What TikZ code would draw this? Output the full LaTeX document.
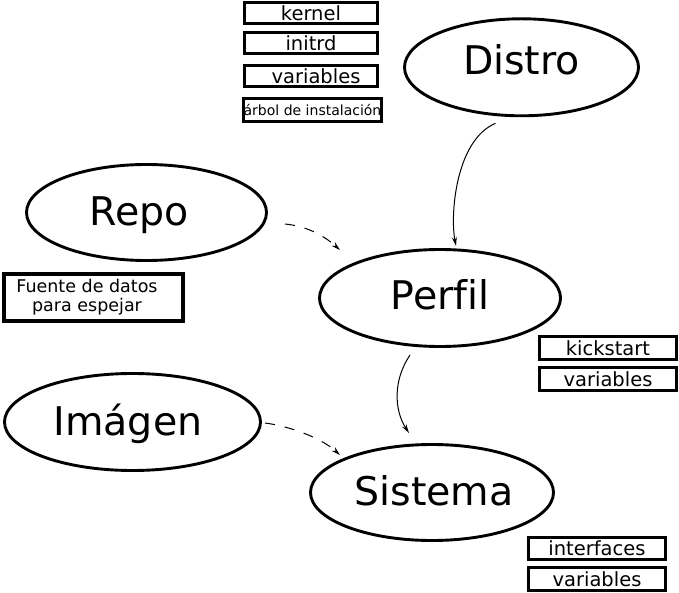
\documentclass[tikz,border=0pt]{standalone}
\usepackage{fontspec}
\setmainfont{DejaVu Sans}[Ligatures={NoCommon}]
\usetikzlibrary{arrows.meta,shapes.geometric}
\begin{document}
\begin{tikzpicture}[x=1pt,y=-1pt,
  oval/.style={ellipse, draw, line width=2.9pt, inner sep=0pt, text height=26.8pt, text depth=0pt,
    font=\fontsize{39.5}{41}\selectfont},
  tag/.style={rectangle, draw, line width=3.5pt, inner sep=0pt, minimum width=133pt, minimum height=21pt,
    font=\fontsize{19.5}{21}\selectfont},
  link/.style={line width=1pt, -{Stealth[length=9pt,width=5pt]}},
  dlink/.style={link, dash pattern=on 10pt off 10pt}]
\useasboundingbox (0,0) rectangle (679,593);

% ellipses
\node[oval, minimum width=234pt, minimum height=97pt, text height=14.2pt] (distro) at (521.5,67.3) {Distro};
\node[oval, minimum width=240pt, minimum height=96pt] (repo) at (146.5,212.5) {\hspace*{-15pt}Repo};
\node[oval, minimum width=241pt, minimum height=97pt, text height=22.8pt] (perfil) at (440,298) {Perfil};
\node[oval, minimum width=256pt, minimum height=97pt] (imagen) at (132.5,422) {\hspace*{-9pt}Imágen};
\node[oval, minimum width=243pt, minimum height=96pt, text height=25.8pt] (sistema) at (432,492.5) {Sistema\hspace*{-4pt}};

% boxes
\node[tag] (kernel) at (311,13) {kernel};
\node[tag] (initrd) at (311,43) {initrd};
\node[tag] (dvars) at (311,76) {variables\hspace*{-10pt}};
\node[tag, minimum width=136pt, minimum height=23pt, font=\fontsize{14}{16}\selectfont] (arbol) at (312.5,110) {árbol de instalación};

\node[rectangle, draw, line width=4.2pt, minimum width=179pt, minimum height=47pt] (fuente) at (93.5,297.5) {};
\node[align=center, inner sep=0pt, font=\fontsize{17.5}{19.5}\selectfont] (fuentetext) at (87,297.4) {Fuente de datos\\para espejar};

\node[tag, minimum width=137pt, minimum height=23pt] (kick) at (608,348) {kickstart};
\node[tag, minimum width=137pt, minimum height=23pt] (pvars) at (608,379) {variables};
\node[tag, minimum width=137pt, minimum height=22pt] (ifaces) at (597,548.5) {interfaces};
\node[tag, minimum width=137pt, minimum height=23pt] (svars) at (597,579) {variables};

% connectors
\draw[link] ([shift={(-26,56)}]distro.center) .. controls +(-40,17) and +(-6,-31) .. ([shift={(16,-52)}]perfil.center);
\draw[link] ([shift={(-30,57)}]perfil.center) .. controls +(-17,25) and +(-15,-23) .. ([shift={(-23,-59.5)}]sistema.center);
\draw[dlink] ([shift={(138.5,11.5)}]repo.center) .. controls +(20,2) and +(-18,-16) .. ([shift={(-100,-48)}]perfil.center);
\draw[dlink] ([shift={(132.5,1)}]imagen.center) .. controls +(23,3) and +(-20,-18) .. ([shift={(-92,-37.5)}]sistema.center);
\end{tikzpicture}
\end{document}
